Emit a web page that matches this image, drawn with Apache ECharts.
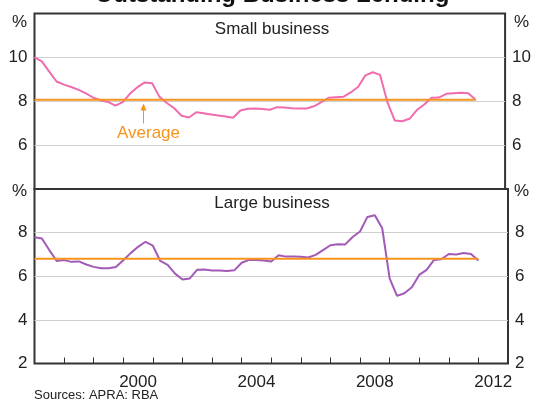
<!DOCTYPE html>
<html>
<head>
<meta charset="utf-8">
<script src="https://cdn.jsdelivr.net/npm/echarts@6/dist/echarts.min.js"></script>
<style>
html, body { margin: 0; padding: 0; background: #fff; }
#main { width: 534px; height: 406px; }
</style>
</head>
<body>
<div id="main"></div>
<script>
// quarterly dates, decimal years
var dates = [
  1997, 1997.25, 1997.5, 1997.75, 1998, 1998.25, 1998.5, 1998.75,
  1999, 1999.25, 1999.5, 1999.75, 2000, 2000.25, 2000.5, 2000.75,
  2001, 2001.25, 2001.5, 2001.75, 2002, 2002.25, 2002.5, 2002.75,
  2003, 2003.25, 2003.5, 2003.75, 2004, 2004.25, 2004.5, 2004.75,
  2005, 2005.25, 2005.5, 2005.75, 2006, 2006.25, 2006.5, 2006.75,
  2007, 2007.25, 2007.5, 2007.75, 2008, 2008.25, 2008.5, 2008.75,
  2009, 2009.25, 2009.5, 2009.75, 2010, 2010.25, 2010.5, 2010.75,
  2011, 2011.25, 2011.5, 2011.75, 2012
]
var smallBusiness = [
  10.0, 9.82, 9.35, 8.9, 8.76, 8.65, 8.52, 8.36,
  8.16, 8.05, 7.97, 7.8, 7.96, 8.35, 8.64, 8.86,
  8.82, 8.2, 7.92, 7.68, 7.34, 7.26, 7.5, 7.45,
  7.4, 7.35, 7.3, 7.25, 7.58, 7.66, 7.67, 7.65,
  7.61, 7.73, 7.71, 7.68, 7.67, 7.67, 7.77, 7.96,
  8.16, 8.18, 8.2, 8.4, 8.65, 9.18, 9.32, 9.2,
  7.95, 7.12, 7.09, 7.2, 7.6, 7.85, 8.16, 8.17,
  8.34, 8.37, 8.39, 8.36, 8.07
]
var largeBusiness = [
  7.79, 7.73, 7.2, 6.7, 6.74, 6.66, 6.68, 6.54,
  6.43, 6.37, 6.37, 6.42, 6.73, 7.06, 7.35, 7.58,
  7.4, 6.7, 6.52, 6.12, 5.85, 5.9, 6.3, 6.31,
  6.26, 6.26, 6.24, 6.27, 6.62, 6.75, 6.75, 6.72,
  6.68, 6.96, 6.9, 6.9, 6.89, 6.86, 6.98, 7.2,
  7.42, 7.47, 7.46, 7.8, 8.05, 8.72, 8.8, 8.2,
  5.9, 5.1, 5.22, 5.5, 6.06, 6.29, 6.75, 6.78,
  7.02, 7.0, 7.07, 7.02, 6.72
]
var smallAverage = 8.07
var largeAverage = 6.8
var yearTicks = [1998, 1999, 2000, 2001, 2002, 2003, 2004, 2005, 2006, 2007, 2008, 2009, 2010, 2011, 2012]
var yearLabels = [2000, 2004, 2008, 2012]

var font = 'Arial, "Liberation Sans", sans-serif'
var textColor = '#222'
var orange = '#F7941D'

var chart = echarts.init(document.getElementById('main'))

function pairs(values) {
  return values.map(function (v, i) { return [dates[i], v] })
}
function avgLine(v) {
  return [[dates[0], v], [dates[dates.length - 1], v]]
}

function yAxis(gridIndex, pos, min, max, grid) {
  return {
    type: 'value',
    gridIndex: gridIndex,
    position: pos,
    min: min,
    max: max,
    interval: 2,
    axisLine: { show: false },
    axisTick: { show: false },
    axisLabel: {
      showMinLabel: gridIndex == 1,
      showMaxLabel: false,
      margin: 7,
      color: textColor,
      fontSize: 17,
      fontFamily: font
    },
    splitLine: {
      show: grid,
      showMinLine: false,
      showMaxLine: false,
      lineStyle: { color: '#cfcfcf', width: 1 }
    }
  }
}

function label(text, x, y, align, size, color, weight) {
  return {
    type: 'text',
    x: x,
    y: y,
    z: 100,
    style: {
      text: text,
      align: align,
      verticalAlign: 'middle',
      fill: color || textColor,
      font: (weight || 'normal') + ' ' + size + 'px ' + font
    }
  }
}

var option = {
  animation: false,
  grid: [
    { left: 34.5, right: 26, top: 13.5, height: 175.5, show: true, borderColor: '#333', borderWidth: 2, backgroundColor: 'transparent' },
    { left: 34.5, right: 26, top: 189, height: 174.5, show: true, borderColor: '#333', borderWidth: 2, backgroundColor: 'transparent' }
  ],
  xAxis: [
    {
      type: 'value', gridIndex: 0, min: 1997, max: 2013,
      axisLine: { show: false }, axisTick: { show: false },
      axisLabel: { show: false }, splitLine: { show: false }
    },
    {
      type: 'value', gridIndex: 1, min: 1997, max: 2013,
      axisLine: { show: false },
      axisTick: {
        show: true, inside: true, length: 6,
        customValues: yearTicks,
        lineStyle: { color: '#333', width: 1 }
      },
      axisLabel: {
        // labels sit in the middle of each year
        customValues: yearLabels.map(function (y) { return y + 0.5 }),
        formatter: function (v) { return String(Math.floor(v)) },
        margin: 10,
        color: textColor,
        fontSize: 17,
        fontFamily: font
      },
      splitLine: { show: false }
    }
  ],
  yAxis: [
    yAxis(0, 'left', 4, 12, true),
    yAxis(0, 'right', 4, 12, false),
    yAxis(1, 'left', 2, 10, true),
    yAxis(1, 'right', 2, 10, false)
  ],
  series: [
    {
      name: 'Small business', type: 'line', xAxisIndex: 0, yAxisIndex: 0,
      data: pairs(smallBusiness), symbol: 'none',
      lineStyle: { color: '#F06CAE', width: 2 }
    },
    {
      name: 'Small average', type: 'line', xAxisIndex: 0, yAxisIndex: 0,
      data: avgLine(smallAverage), symbol: 'none',
      lineStyle: { color: orange, width: 2 }
    },
    {
      name: 'Large business', type: 'line', xAxisIndex: 1, yAxisIndex: 2,
      data: pairs(largeBusiness), symbol: 'none',
      lineStyle: { color: '#A25AB6', width: 2 }
    },
    {
      name: 'Large average', type: 'line', xAxisIndex: 1, yAxisIndex: 2,
      data: avgLine(largeAverage), symbol: 'none',
      lineStyle: { color: orange, width: 2 }
    }
  ],
  graphic: [
    label('Outstanding Business Lending', 272, -5, 'center', 24, '#111', 'bold'),
    label('Small business', 272, 29.5, 'center', 17),
    label('Large business', 272, 203.5, 'center', 17),
    label('%', 27, 22, 'right', 17),
    label('%', 514, 22, 'left', 17),
    label('%', 27, 191, 'right', 17),
    label('%', 514, 191, 'left', 17),
    label('Average', 148.5, 133.5, 'center', 17, orange),
    {
      type: 'line', z: 100,
      shape: { x1: 143.5, y1: 123.5, x2: 143.5, y2: 109 },
      style: { stroke: orange, lineWidth: 1 }
    },
    {
      type: 'polygon', z: 100,
      shape: { points: [[143.5, 103.5], [140.5, 110.5], [146.5, 110.5]] },
      style: { fill: orange }
    },
    label('Sources: APRA: RBA', 34, 395, 'left', 13)
  ]
}

chart.setOption(option)
</script>
</body>
</html>
